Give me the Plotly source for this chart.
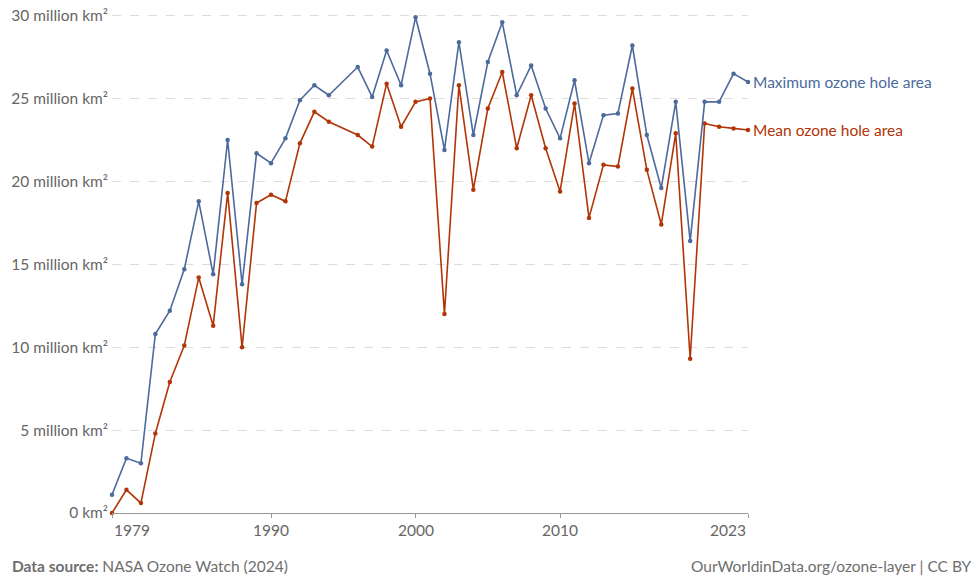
import plotly.graph_objects as go

years = [1979, 1980, 1981, 1982, 1983, 1984, 1985, 1986, 1987, 1988, 1989, 1990,
         1991, 1992, 1993, 1994, 1996, 1997, 1998, 1999, 2000, 2001, 2002, 2003,
         2004, 2005, 2006, 2007, 2008, 2009, 2010, 2011, 2012, 2013, 2014, 2015,
         2016, 2017, 2018, 2019, 2020, 2021, 2022, 2023]
max_area = [1.1, 3.3, 3.0, 10.8, 12.2, 14.7, 18.8, 14.4, 22.5, 13.8, 21.7, 21.1,
            22.6, 24.9, 25.8, 25.2, 26.9, 25.1, 27.9, 25.8, 29.9, 26.5, 21.9, 28.4,
            22.8, 27.2, 29.6, 25.2, 27.0, 24.4, 22.6, 26.1, 21.1, 24.0, 24.1, 28.2,
            22.8, 19.6, 24.8, 16.4, 24.8, 24.8, 26.5, 26.0]
mean_area = [0.0, 1.4, 0.6, 4.8, 7.9, 10.1, 14.2, 11.3, 19.3, 10.0, 18.7, 19.2,
             18.8, 22.3, 24.2, 23.6, 22.8, 22.1, 25.9, 23.3, 24.8, 25.0, 12.0, 25.8,
             19.5, 24.4, 26.6, 22.0, 25.2, 22.0, 19.4, 24.7, 17.8, 21.0, 20.9, 25.6,
             20.7, 17.4, 22.9, 9.3, 23.5, 23.3, 23.2, 23.1]

y_ticks = [0, 5, 10, 15, 20, 25, 30]
y_ticktext = ["0 km²", "5 million km²", "10 million km²", "15 million km²",
              "20 million km²", "25 million km²", "30 million km²"]
x_ticks = [1979, 1990, 2000, 2010, 2023]
x_ticktext = ["1979", "1990", "2000", "2010", "2023"]

series_names = ["Maximum ozone hole area", "Mean ozone hole area"]
BLUE = "#4c6a9c"
RED = "#b13507"
FONT = "Lato, 'Open Sans', sans-serif"
GREY = "#666666"
FS = 15.5

fig = go.Figure()
fig.add_trace(go.Scatter(x=years, y=mean_area, mode="lines+markers",
                         line=dict(color=RED, width=1.6),
                         marker=dict(color=RED, size=4.5),
                         name=series_names[1], showlegend=False, cliponaxis=False))
fig.add_trace(go.Scatter(x=years, y=max_area, mode="lines+markers",
                         line=dict(color=BLUE, width=1.6),
                         marker=dict(color=BLUE, size=4.5),
                         name=series_names[0], showlegend=False, cliponaxis=False))

annotations = []
# end labels
annotations.append(dict(x=years[-1], y=max_area[-1], xref="x", yref="y",
                        text=series_names[0], showarrow=False, xanchor="left",
                        yanchor="middle", xshift=3,
                        font=dict(family=FONT, size=FS, color=BLUE)))
annotations.append(dict(x=years[-1], y=mean_area[-1], xref="x", yref="y",
                        text=series_names[1], showarrow=False, xanchor="left",
                        yanchor="middle", xshift=3,
                        font=dict(family=FONT, size=FS, color=RED)))
# x tick labels (end ones aligned inward, like the original)
for i, (v, t) in enumerate(zip(x_ticks, x_ticktext)):
    anchor = "left" if i == 0 else ("right" if i == len(x_ticks) - 1 else "center")
    annotations.append(dict(x=v, y=0, xref="x", yref="paper", text=t,
                            showarrow=False, xanchor=anchor, yanchor="top",
                            yshift=-6, font=dict(family=FONT, size=FS, color=GREY)))
# footer
annotations.append(dict(x=-0.1604, y=-0.1066, xref="paper", yref="paper",
                        text="<b>Data source:</b> NASA Ozone Watch (2024)",
                        showarrow=False, xanchor="left", yanchor="middle",
                        font=dict(family=FONT, size=FS, color="#6e6e6e")))
annotations.append(dict(x=1.355, y=-0.1066, xref="paper", yref="paper",
                        text="OurWorldinData.org/ozone-layer | CC BY",
                        showarrow=False, xanchor="right", yanchor="middle",
                        font=dict(family=FONT, size=FS, color="#6e6e6e")))

fig.update_layout(
    width=977, height=580,
    margin=dict(l=112, r=229, t=14, b=67, autoexpand=False),
    plot_bgcolor="white", paper_bgcolor="white",
    font=dict(family=FONT, size=FS, color=GREY),
    annotations=annotations,
    showlegend=False,
    hovermode=False,
)
fig.update_xaxes(range=[1979, 2023], tickvals=x_ticks, ticktext=x_ticktext,
                 showticklabels=False, ticks="outside", ticklen=4,
                 tickcolor="#999999", showline=True, linecolor="#999999",
                 linewidth=1, showgrid=False, zeroline=False, fixedrange=True,
                 automargin=False)
fig.update_yaxes(range=[0, 30.1], tickvals=y_ticks, ticktext=y_ticktext,
                 showgrid=True, gridcolor="#dddddd", griddash="dash",
                 gridwidth=1, zeroline=False, showline=False, ticks="",
                 tickfont=dict(family=FONT, size=FS, color=GREY),
                 ticklabelstandoff=3, ticklabeloverflow="allow",
                 fixedrange=True, automargin=False)

fig.write_html("out.html", config={"displayModeBar": False, "staticPlot": True},
               post_script="document.body.style.margin='0';document.body.style.overflow='hidden';")
